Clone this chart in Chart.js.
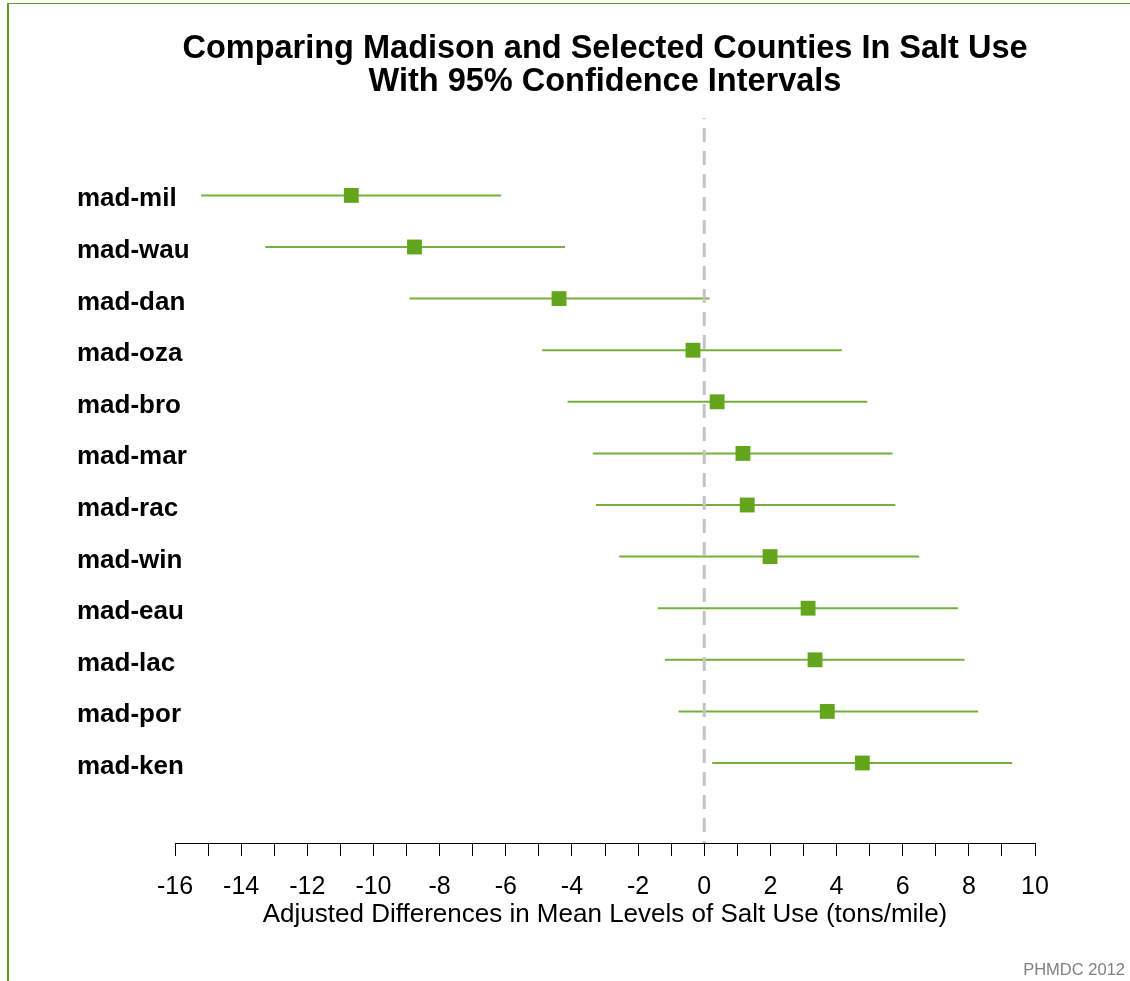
<!DOCTYPE html>
<html>
<head>
<meta charset="utf-8">
<script src="https://cdn.jsdelivr.net/npm/chart.js@4.4.1/dist/chart.umd.min.js"></script>
<style>
  html, body { margin: 0; padding: 0; background: #fff; }
  #wrap { position: absolute; left: 0; top: 0; width: 1130px; height: 981px; }
  #frame { position: absolute; left: 7px; top: 3px; width: 1123px; height: 978px;
           border-left: 2px solid #5f9a2b; border-top: 1px solid #5f9a2b; box-sizing: border-box; }
  #note { position: absolute; right: 5px; top: 960px; font: 16.5px "Liberation Sans", Arial, sans-serif; color: #808080; }
</style>
</head>
<body>
<div id="wrap"><canvas id="c"></canvas></div>
<div id="frame"></div>
<div id="note">PHMDC 2012</div>
<script>
// ---- data ----
const categories = ['mad-mil','mad-wau','mad-dan','mad-oza','mad-bro','mad-mar','mad-rac','mad-win','mad-eau','mad-lac','mad-por','mad-ken'];
const estimate = [-10.67, -8.76, -4.39, -0.34, 0.39, 1.17, 1.30, 1.99, 3.14, 3.35, 3.72, 4.78];
const lower    = [-15.21, -13.27, -8.91, -4.90, -4.13, -3.37, -3.27, -2.57, -1.40, -1.19, -0.78, 0.24];
const upper    = [-6.14, -4.21, 0.16, 4.16, 4.93, 5.69, 5.78, 6.50, 7.67, 7.87, 8.28, 9.31];
const referenceValue = 0;
const xMin = -16, xMax = 10, xStep = 1, xLabelEvery = 2;
const titleLines = ['Comparing Madison and Selected Counties In Salt Use', 'With 95% Confidence Intervals'];
const xTitle = 'Adjusted Differences in Mean Levels of Salt Use (tons/mile)';

const FONT = '"Liberation Sans", Arial, Helvetica, sans-serif';
const yMin = -0.5, yMax = 13.55;
const labelNudge = 0.075; // category labels sit slightly below their rows

const ciDatasets = categories.map((c, i) => ({
  type: 'scatter',
  label: c + ' CI',
  data: [{x: lower[i], y: i + 1}, {x: upper[i], y: i + 1}],
  showLine: true,
  borderColor: '#76b03c',
  borderWidth: 2,
  pointRadius: 0,
  order: 3
}));

const refDataset = {
  type: 'scatter',
  label: 'ref',
  data: [{x: referenceValue, y: yMin}, {x: referenceValue, y: yMax}],
  showLine: true,
  borderColor: '#c4c4c4',
  borderWidth: 3,
  borderDash: [14, 9],
  borderDashOffset: 13,
  pointRadius: 0,
  order: 2
};

const pointDataset = {
  type: 'scatter',
  label: 'estimate',
  data: categories.map((c, i) => ({x: estimate[i], y: i + 1})),
  pointStyle: 'rect',
  pointRadius: 10.5,
  pointHoverRadius: 10.5,
  backgroundColor: '#64a51e',
  borderColor: '#64a51e',
  borderWidth: 0,
  order: 1
};

new Chart(document.getElementById('c'), {
  type: 'scatter',
  data: { datasets: [pointDataset, refDataset, ...ciDatasets] },
  options: {
    responsive: true,
    maintainAspectRatio: false,
    animation: false,
    layout: { padding: { left: 77, right: 95, top: 0, bottom: 0 } },
    plugins: {
      legend: { display: false },
      tooltip: { enabled: false },
      title: {
        display: true,
        fullSize: false,
        text: titleLines,
        color: '#000',
        font: { family: FONT, size: 32.5, weight: 'bold', lineHeight: '33px' },
        padding: { top: 33, bottom: 19 }
      }
    },
    scales: {
      x: {
        type: 'linear',
        position: 'bottom',
        min: xMin, max: xMax,
        afterFit: s => { s.height = 138; },
        ticks: {
          stepSize: xStep,
          autoSkip: false,
          maxRotation: 0,
          color: '#000',
          padding: 16,
          font: { family: FONT, size: 25, lineHeight: 1.2 },
          callback: v => (v % xLabelEvery === 0 ? String(v) : '')
        },
        grid: {
          display: true,
          drawOnChartArea: false,
          drawTicks: true,
          tickLength: 13,
          tickColor: '#000',
          tickWidth: 1
        },
        border: { display: true, color: '#000', width: 1 },
        title: {
          display: true,
          text: xTitle,
          color: '#000',
          font: { family: FONT, size: 26, lineHeight: 1.2 },
          padding: { top: 0, bottom: 51 }
        }
      },
      y: {
        type: 'linear',
        position: 'left',
        reverse: true,
        min: yMin, max: yMax,
        afterFit: s => { s.width = 98; },
        afterBuildTicks: s => { s.ticks = categories.map((c, i) => ({ value: i + 1 + labelNudge })); },
        ticks: {
          autoSkip: false,
          mirror: true,
          crossAlign: 'near',
          padding: -98,
          color: '#000',
          font: { family: FONT, size: 26, weight: 'bold' },
          callback: v => categories[Math.round(v) - 1] || ''
        },
        grid: { display: false },
        border: { display: false }
      }
    }
  }
});
</script>
</body>
</html>
